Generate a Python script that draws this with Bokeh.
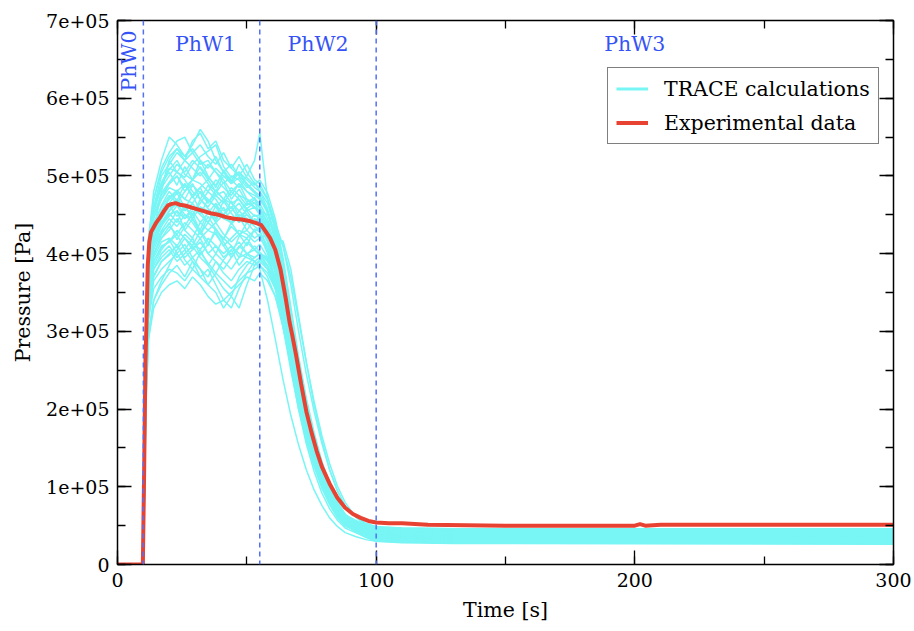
import math
from bokeh.plotting import figure
from bokeh.models import (LinearAxis, SingleIntervalTicker, Span, Label, Legend,
                          LegendItem, Range1d, CustomLabelingPolicy)
from bokeh.embed import file_html
from bokeh.resources import INLINE

# ---------------- data (pressure in kPa) ----------------
time_grid = [0, 10, 11, 12, 14, 17, 20, 23, 26, 29, 32, 35, 38, 41, 44, 47, 50, 53, 55,
             58, 61, 64, 67, 70, 73, 76, 79, 82, 85, 88, 92, 96, 100, 110, 130, 300]

trace_runs = [
    [0,0,280,390,430,480,520,535,525,540,560,545,520,505,515,500,490,480,470, 455,420,370,300,240,190,150,115,90,70,58, 52,46,43,41,40,40],
    [0,0,220,300,340,360,375,385,370,390,380,360,350,330,345,370,385,395,400, 395,380,345,295,240,190,150,118,92,72,58, 47,38,33,30,29,28],
    [0,0,260,360,410,440,455,470,460,450,465,480,470,455,460,445,450,440,445, 430,400,350,290,235,185,145,112,88,68,55, 49,42,39,38,37,37],
    [0,0,290,400,450,470,490,500,485,495,505,490,480,500,495,485,500,520,555, 470,430,380,320,255,200,160,125,97,76,61, 55,49,46,45,44,44],
    [0,0,240,330,370,390,400,410,395,405,420,400,390,380,395,410,400,390,395, 380,355,310,260,210,170,135,105,82,64,52, 44,37,33,31,30,30],
    [0,0,300,420,470,510,530,545,550,530,515,520,505,495,480,490,470,460,455, 440,410,365,305,245,195,155,120,93,73,59, 53,47,44,43,42,42],
    [0,0,250,350,400,420,430,445,430,420,440,430,425,410,420,430,425,415,420, 425,420,416,380,320,260,205,160,122,95,75, 62,53,49,47,46,46],
    [0,0,270,380,440,460,475,465,480,490,470,460,475,480,465,470,455,460,450, 420,375,315,255,200,155,120,92,72,57,47, 41,35,32,30,29,29],
    [0,0,210,290,330,350,360,365,355,370,360,345,335,340,350,360,370,365,375, 365,345,310,265,215,172,137,108,85,67,54, 45,37,32,29,28,27],
    [0,0,280,400,460,485,500,515,505,520,510,495,510,500,490,505,495,485,480, 465,430,380,315,255,205,162,127,99,77,62, 56,50,47,46,45,45],
    [0,0,260,360,410,430,445,435,450,440,425,440,430,420,435,425,430,420,425, 400,360,305,250,200,160,126,98,77,60,49, 44,38,35,34,33,33],
    [0,0,250,345,390,410,415,430,420,405,415,400,410,395,405,415,400,395,400, 390,370,335,285,232,186,148,116,90,70,57, 49,42,39,37,36,36],
    [0,0,290,410,460,500,515,530,520,545,555,535,545,520,510,525,505,490,485, 470,440,390,325,262,208,164,128,100,78,63, 55,48,45,44,43,43],
    [0,0,270,370,420,445,460,470,455,465,450,470,460,445,455,465,450,440,435, 415,380,330,272,220,176,140,110,86,67,54, 45,38,34,32,31,31],
    [0,0,230,320,365,380,390,400,385,395,380,370,390,375,365,380,390,385,390, 380,360,325,280,228,184,147,116,91,71,57, 49,41,37,35,34,34],
    [0,0,280,390,445,470,485,480,490,475,485,495,480,470,485,475,470,465,460, 440,400,345,285,230,184,146,114,89,70,57, 50,44,41,39,38,38],
    [0,0,240,335,380,400,410,395,405,390,370,380,360,340,330,355,375,390,385, 375,355,320,275,225,182,146,115,90,71,57, 48,40,35,33,32,32],
    [0,0,290,400,455,490,510,505,520,510,500,515,505,490,500,495,480,475,470, 455,425,378,318,258,206,164,128,100,78,63, 54,47,44,42,41,41],
    [0,0,260,360,415,435,450,455,445,460,450,440,455,445,440,450,445,435,430, 405,365,310,255,205,163,129,101,79,62,51, 43,37,33,31,30,30],
    [0,0,270,375,430,455,470,480,470,465,480,470,460,470,465,455,465,460,455, 450,440,410,360,300,245,197,156,122,95,75, 62,52,47,45,44,44],
    [0,0,250,350,400,420,435,425,440,430,420,430,440,425,415,425,420,430,420, 405,375,330,275,224,180,143,112,88,69,56, 48,41,38,36,35,35],
    [0,0,300,420,480,520,550,540,525,535,520,510,525,505,495,505,490,480,475, 455,415,360,298,240,192,152,118,92,72,58, 51,45,42,40,39,39],
    [0,0,225,315,355,370,380,375,365,380,370,360,375,365,355,365,375,380,385, 370,345,305,258,210,170,136,107,84,66,53, 43,35,30,28,27,26],
    [0,0,285,395,450,475,490,500,480,495,490,480,495,485,475,490,480,470,465, 445,405,350,290,234,188,149,116,90,70,57, 50,43,40,38,37,37],
    [0,0,250,345,395,415,420,410,425,415,405,420,410,400,410,400,395,390,380, 340,290,238,192,154,122,96,76,60,49,41, 36,32,30,29,28,28],
    [0,0,265,365,420,440,455,465,450,445,460,455,440,450,460,445,440,450,445, 430,395,345,288,234,188,150,118,92,72,58, 51,45,42,41,40,40],
    [0,0,240,335,380,395,405,390,400,410,395,385,400,390,380,395,400,405,400, 385,355,310,260,212,171,137,108,85,67,54, 44,36,32,30,29,29],
    [0,0,295,415,470,505,525,535,520,530,540,525,515,530,510,500,515,495,490, 470,435,385,322,260,208,165,129,101,79,64, 57,51,48,47,46,46],
    [0,0,275,385,435,462,480,468,490,472,485,465,478,492,470,483,466,472,460, 440,402,348,288,232,186,148,116,91,71,58, 48,42,39,38,37,37],
    [0,0,255,352,398,425,440,418,435,452,428,410,432,415,398,422,440,428,435, 420,392,345,288,234,188,150,118,92,72,58, 47,40,37,35,34,34],
    [0,0,285,400,455,490,505,488,512,495,520,500,485,508,492,515,498,488,495, 478,445,395,332,268,214,170,133,104,81,65, 52,46,43,42,41,41],
    [0,0,262,362,412,438,452,440,462,445,430,455,442,460,438,448,430,445,440, 418,382,332,275,222,178,141,111,87,68,55, 45,39,36,35,34,33],
    [0,0,245,340,385,405,418,400,412,395,405,385,370,355,345,330,360,385,392, 385,365,330,283,232,188,151,120,94,74,60, 48,41,37,35,34,34],
    [0,0,285,400,455,485,520,505,495,480,470,488,475,465,480,470,458,466,452, 428,385,328,268,215,171,135,106,83,65,53, 43,37,34,32,31,31],
    [0,0,268,372,425,450,465,478,460,448,470,458,445,468,452,440,458,448,450, 438,410,365,305,248,200,159,124,97,76,61, 50,43,40,38,37,37],
    [0,0,258,355,405,428,438,455,430,445,425,448,432,418,440,425,410,432,428, 410,378,330,274,222,179,142,112,88,69,56, 46,40,37,35,34,34],
    [0,0,280,392,448,478,492,505,498,515,525,532,540,512,498,505,488,478,472, 452,415,362,300,242,194,154,120,94,73,59, 48,42,39,37,36,36],
    [0,0,235,328,372,390,398,412,392,380,402,388,375,392,405,385,398,410,402, 392,370,332,284,232,188,151,120,94,74,60, 48,41,37,35,34,33],
    [0,0,265,368,418,445,462,448,458,475,455,440,462,450,468,448,455,440,448, 435,405,358,298,242,195,155,121,95,74,60, 49,43,40,38,37,37],
    [0,0,205,290,340,365,385,405,420,410,430,415,400,420,410,395,415,405,398, 384,360,322,274,224,181,145,115,90,71,57, 46,39,35,33,32,32],
    [0,0,272,380,432,455,472,482,470,488,478,465,482,470,458,475,462,470,458, 430,388,334,276,223,179,142,112,88,69,56, 46,40,37,35,34,34],
    [0,0,262,362,412,438,448,462,445,455,440,452,465,448,440,455,445,438,442, 440,432,410,370,315,260,210,166,130,101,80, 61,51,46,44,43,43],
    [0,0,288,402,460,492,508,520,502,495,512,498,488,505,490,498,485,492,480, 458,418,362,298,240,192,152,119,93,73,59, 49,43,40,39,38,38],
    [0,0,248,342,390,408,415,425,405,420,398,412,428,410,395,408,420,405,412, 395,362,315,260,210,168,133,105,82,64,52, 42,36,33,31,30,30],
]

exp_time = [0, 9.8, 10.3, 10.8, 11.2, 11.7, 12.3, 13, 14, 15, 16.5, 18, 19.5, 21, 22.5, 24,
            26, 28, 30, 33, 36, 39, 42, 45, 48, 51, 54, 55.5, 57, 59, 61, 63, 65, 66.5,
            67.5, 69, 71, 73, 75, 77, 79, 82, 85, 88, 91, 94, 97, 100, 105, 110, 115,
            120, 150, 200, 202, 204, 210, 215, 250, 300]
exp_pressure = [0, 0, 120, 260, 310, 385, 415, 428, 434, 440, 447, 455, 462, 464, 465, 463,
                462, 460, 458, 455, 452, 450, 447, 445, 444, 442, 439, 437, 430, 420, 405,
                380, 343, 312, 296, 270, 232, 197, 170, 146, 126, 104, 86, 73, 65, 60, 56,
                54, 53, 53, 52, 51, 50, 50, 52, 50, 51, 51, 51, 51]

phase_bounds = [10, 55, 100]
phase_names = ["PhW0", "PhW1", "PhW2", "PhW3"]
phase_label_x = [4.6, 34, 77.5, 200]
phase_label_y = [648000, 670000, 670000, 670000]

x_ticks_interval = 100
y_tick_values = [0, 100000, 200000, 300000, 400000, 500000, 600000, 700000]
y_tick_labels = ["0", "1e+05", "2e+05", "3e+05", "4e+05", "5e+05", "6e+05", "7e+05"]

# ---------------- styling ----------------
FONT = "DejaVu Serif"
FS_TICK = "19px"
FS = "20.5px"
CYAN = "#78f5f5"
RED = "#e84332"
BLUE_LINE = "#5470f5"
BLUE_TEXT = "#3553f5"

p = figure(width=914, height=631, x_range=Range1d(0, 300), y_range=Range1d(0, 700000),
           output_backend="svg", toolbar_location=None,
           min_border_left=117, min_border_right=21, min_border_top=20, min_border_bottom=67)
p.grid.visible = False
p.outline_line_color = None
p.background_fill_color = "white"

no_labels = CustomLabelingPolicy(code="for (const i of indices) { indices.unset(i) }\nreturn indices")


def style_axis(ax, labels=True):
    ax.axis_line_color = "black"
    ax.axis_line_width = 1.5
    ax.major_tick_line_color = "black"
    ax.major_tick_line_width = 1.3
    ax.minor_tick_line_color = "black"
    ax.minor_tick_line_width = 1.3
    ax.major_tick_in = 14
    ax.major_tick_out = 0
    ax.minor_tick_in = 8
    ax.minor_tick_out = 0
    ax.major_label_text_font = FONT
    ax.major_label_text_color = "black"
    ax.major_label_text_font_size = FS_TICK
    ax.axis_label_text_font = FONT
    ax.axis_label_text_font_size = FS
    ax.axis_label_text_font_style = "normal"
    ax.axis_label_text_color = "black"
    if not labels:
        ax.major_label_policy = no_labels
        ax.major_label_text_font_size = "0px"
        ax.major_label_standoff = 0


p.xaxis.ticker = SingleIntervalTicker(interval=x_ticks_interval, num_minor_ticks=2)
p.yaxis.ticker = SingleIntervalTicker(interval=100000, num_minor_ticks=2)
for ax in p.xaxis + p.yaxis:
    style_axis(ax)
p.xaxis.axis_label = "Time [s]"
p.yaxis.axis_label = "Pressure [Pa]"
p.xaxis.major_label_standoff = 8
p.yaxis.major_label_standoff = 8
p.xaxis.axis_label_standoff = 8
p.yaxis.axis_label_standoff = 8
p.yaxis.major_label_overrides = {v: s for v, s in zip(y_tick_values, y_tick_labels)}

ax_r = LinearAxis(ticker=SingleIntervalTicker(interval=100000, num_minor_ticks=2))
style_axis(ax_r, labels=False)
p.add_layout(ax_r, "right")
ax_t = LinearAxis(ticker=SingleIntervalTicker(interval=x_ticks_interval, num_minor_ticks=2))
style_axis(ax_t, labels=False)
p.add_layout(ax_t, "above")

# cyan runs
xs = [time_grid for _ in trace_runs]
ys = [[v * 1000 for v in run] for run in trace_runs]
p.multi_line(xs=xs, ys=ys, line_color=CYAN, line_width=1.5)
# legend proxy (a single point draws no line)
r_cyan_leg = p.line(x=time_grid[:1], y=trace_runs[0][:1], line_color=CYAN, line_width=3)

# phase separators
for b in phase_bounds:
    p.add_layout(Span(location=b, dimension="height", line_color=BLUE_LINE,
                      line_dash="5 4", line_width=1.5))

# experimental
r_red = p.line(exp_time, [v * 1000 for v in exp_pressure], line_color=RED, line_width=4)

# phase labels
for i, (name, lx, ly) in enumerate(zip(phase_names, phase_label_x, phase_label_y)):
    p.add_layout(Label(x=lx, y=ly, text=name, text_align="center", text_baseline="middle",
                       text_font=FONT, text_font_size=FS, text_color=BLUE_TEXT,
                       angle=(math.pi / 2 if i == 0 else 0)))

legend = Legend(items=[LegendItem(label="TRACE calculations", renderers=[r_cyan_leg]),
                       LegendItem(label="Experimental data", renderers=[r_red])],
                location=(490, 420))
legend.border_line_color = "black"
legend.border_line_width = 1.3
legend.background_fill_color = "white"
legend.background_fill_alpha = 1
legend.label_text_font = FONT
legend.label_text_font_size = FS
legend.label_text_color = "black"
legend.glyph_width = 32
legend.glyph_height = 25
legend.label_height = 25
legend.label_standoff = 16
legend.spacing = 9
legend.padding = 8
legend.margin = 0
p.add_layout(legend, "center")

open("out.html", "w").write(file_html(p, INLINE))
